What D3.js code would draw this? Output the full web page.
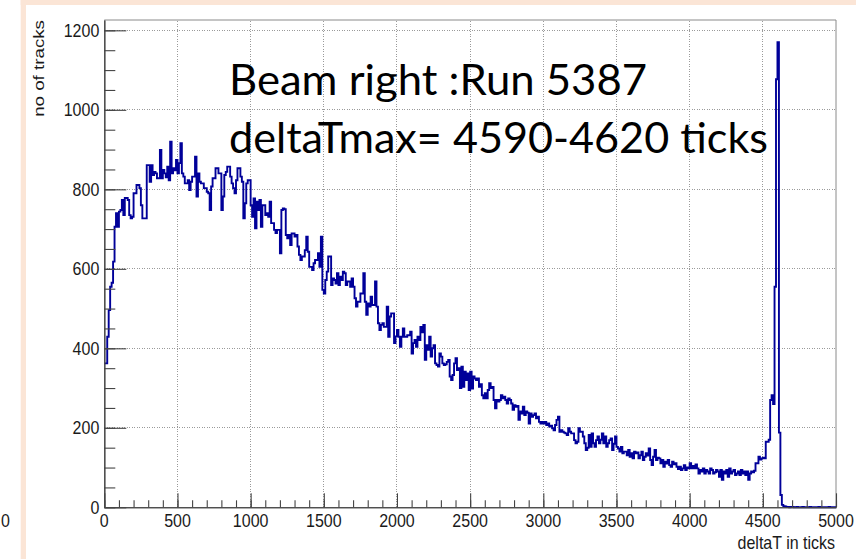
<!DOCTYPE html>
<html><head><meta charset="utf-8">
<script src="https://cdn.jsdelivr.net/npm/d3@7"></script>
<style>body{margin:0;background:#fff}svg{display:block}</style>
</head><body>
<svg id="c" width="856" height="559"></svg>
<script>
// ---- data ----
const xDomain = [0, 5000];
const yDomain = [0, 1226];
const binWidth = 10;
const counts = [
362,362,429,496,555,565,618,706,740,706,
744,748,773,735,778,778,773,735,727,731,
790,790,811,811,803,760,727,727,727,861,
861,819,861,836,844,840,828,828,899,828,
849,840,830,857,823,920,840,853,848,874,
840,866,916,840,832,815,815,823,798,819,
832,832,882,782,840,819,815,815,803,803,
794,790,748,807,828,828,853,853,840,840,
748,782,836,844,857,857,832,815,803,790,
823,853,853,832,819,727,765,815,823,823,
760,731,777,702,769,748,773,706,760,760,
735,740,731,769,715,715,698,690,698,698,
639,748,752,750,685,677,685,660,689,689,
681,685,656,635,622,631,631,647,681,643,
605,605,597,614,622,622,639,605,681,547,
538,572,593,631,631,559,576,572,563,589,
559,580,572,593,589,559,568,568,555,576,
555,526,505,517,517,538,538,589,517,484,
513,505,530,509,509,568,505,463,446,459,
463,454,454,505,429,480,488,488,413,430,
446,429,404,429,450,429,429,433,433,442,
387,413,421,404,429,421,454,440,459,371,
408,396,429,379,400,408,362,358,354,387,
379,362,358,360,366,371,329,320,333,362,
375,345,350,300,354,303,341,320,337,295,
341,299,329,324,320,324,303,310,282,274,
287,274,295,312,300,303,270,249,270,266,
270,282,274,278,270,261,274,270,261,245,
257,253,255,220,241,236,253,232,241,238,
211,236,228,232,236,224,228,215,211,215,
211,215,207,211,203,205,199,194,207,220,
228,190,194,190,188,186,182,199,190,186,
186,169,161,165,199,190,190,178,161,144,
150,182,152,186,161,152,169,178,161,170,
186,161,178,152,161,169,173,144,160,178,
152,148,140,152,136,140,140,131,144,127,
136,123,140,136,138,123,131,140,119,127,
136,130,148,119,106,127,144,119,125,123,
111,119,102,115,110,119,106,102,115,108,
111,102,96,102,94,98,106,94,100,98,
111,98,104,98,108,98,85,94,90,98,
85,94,90,85,98,94,85,88,94,90,
77,94,69,90,85,94,77,98,85,90,
94,81,85,90,81,94,85,90,81,90,
69,85,90,88,92,111,111,127,120,123,
125,123,165,165,170,270,282,260,555,1077,
1170,188,31,6,3,2,1,1,0,1,
1,0,0,1,0,0,0,1,0,0,
0,0,1,0,0,0,0,0,1,0,
0,0,0,0,0,1,0,0,0,0
];
const xMajorTicks = [0,500,1000,1500,2000,2500,3000,3500,4000,4500,5000];
const xMinorStep = 100;
const yMajorTicks = [0,200,400,600,800,1000,1200];
const yMinorStep = 50;
const yTitle = "no of tracks";
const xTitle = "deltaT in ticks";
const noteLines = ["Beam right :Run 5387", "deltaTmax= 4590-4620 ticks"];
const strayLabel = "0";

// ---- drawing ----
const svg = d3.select("#c");
const W = 856, H = 559;
const L = 104.3, R = 836, T = 20, B = 507.3;
const font = "'Liberation Sans', Arial, Helvetica, sans-serif";
const axisCol = "#444";

svg.append("rect").attr("width", W).attr("height", H).attr("fill", "#fff");
svg.append("rect").attr("x", 20.7).attr("y", 0).attr("width", W - 20.7).attr("height", 5).attr("fill", "#fbe5d6");
svg.append("rect").attr("x", 20.7).attr("y", 0).attr("width", 5.3).attr("height", H).attr("fill", "#fbe5d6");

svg.append("text").attr("transform", "translate(1,527) scale(1,1.2)")
  .attr("text-anchor", "start").attr("font-family", font).attr("font-size", 16)
  .attr("fill", "#1a1a1a").text(strayLabel);

const x = d3.scaleLinear().domain(xDomain).range([L, R]);
const y = d3.scaleLinear().domain(yDomain).range([B, T]);

// grid
const grid = svg.append("g").attr("stroke", "#9a9a9a").attr("stroke-width", 1)
  .attr("stroke-dasharray", "1,1.5").attr("shape-rendering", "crispEdges");
grid.selectAll("line.gx").data(xMajorTicks.filter(v => v > xDomain[0] && v < xDomain[1]))
  .join("line").attr("x1", d => x(d)).attr("x2", d => x(d)).attr("y1", B).attr("y2", T);
grid.selectAll("line.gy").data(yMajorTicks.filter(v => v > 0))
  .join("line").attr("y1", d => y(d)).attr("y2", d => y(d)).attr("x1", L).attr("x2", R);

// frame (top and right)
svg.append("path").attr("d", `M${L},${T}H${R}V${B}`).attr("fill", "none")
  .attr("stroke", "#8a8a8a").attr("stroke-width", 1);

// histogram
const pts = counts.map((c, i) => [xDomain[0] + i * binWidth, c]);
pts.push([xDomain[0] + counts.length * binWidth, counts[counts.length - 1]]);
const line = d3.line().x(d => x(d[0])).y(d => y(d[1])).curve(d3.curveStepAfter);
svg.append("path").datum(pts).attr("d", line).attr("fill", "none")
  .attr("stroke", "#000099").attr("stroke-width", 1.9).attr("stroke-linejoin", "miter");

// axes
const yMinor = d3.range(0, 1200 + 1, yMinorStep);
const xMinor = d3.range(0, 5000 + 1, xMinorStep);
function styleAxis(g) {
  g.selectAll("path,line").attr("stroke", axisCol).attr("stroke-width", 1.1);
  g.selectAll("text").remove();
}
svg.append("g").attr("transform", `translate(${L},0)`)
  .call(d3.axisLeft(y).tickValues(yMinor).tickSize(-11).tickSizeOuter(0).tickFormat(""))
  .call(styleAxis);
svg.append("g").attr("transform", `translate(${L},0)`)
  .call(d3.axisLeft(y).tickValues(yMajorTicks).tickSize(-22).tickSizeOuter(0).tickFormat(""))
  .call(styleAxis);
svg.append("g").attr("transform", `translate(0,${B})`)
  .call(d3.axisBottom(x).tickValues(xMinor).tickSize(-7).tickSizeOuter(0).tickFormat(""))
  .call(styleAxis);
svg.append("g").attr("transform", `translate(0,${B})`)
  .call(d3.axisBottom(x).tickValues(xMajorTicks).tickSize(-14).tickSizeOuter(0).tickFormat(""))
  .call(styleAxis);

// tick labels
svg.append("g").selectAll("text").data(yMajorTicks).join("text")
  .attr("transform", d => `translate(${L - 5},${y(d) + 6.3}) scale(1,1.15)`)
  .attr("text-anchor", "end").attr("font-family", font).attr("font-size", 16)
  .attr("fill", "#1a1a1a").text(d => d);
svg.append("g").selectAll("text").data(xMajorTicks).join("text")
  .attr("transform", d => `translate(${x(d)},527) scale(1,1.2)`)
  .attr("text-anchor", "middle").attr("font-family", font).attr("font-size", 16)
  .attr("fill", "#1a1a1a").text(d => d);

// axis titles
svg.append("text").attr("transform", `translate(43.5,${T}) rotate(-90) scale(1.25,1)`)
  .attr("text-anchor", "end").attr("font-family", font).attr("font-size", 15)
  .attr("fill", "#1a1a1a").text(yTitle);
svg.append("text").attr("transform", `translate(835,549) scale(1,1.2)`)
  .attr("text-anchor", "end").attr("font-family", font).attr("font-size", 16)
  .attr("fill", "#1a1a1a").text(xTitle);

// annotation
const noteBase = [95, 153], noteLen = [418, 539];
noteLines.forEach((t, i) => {
  svg.append("text").attr("x", 229).attr("y", noteBase[i])
    .attr("font-family", "Lato, 'Open Sans', sans-serif").attr("font-size", 42)
    .attr("textLength", noteLen[i]).attr("lengthAdjust", "spacingAndGlyphs")
    .attr("fill", "#000").text(t);
});
</script>
</body></html>
